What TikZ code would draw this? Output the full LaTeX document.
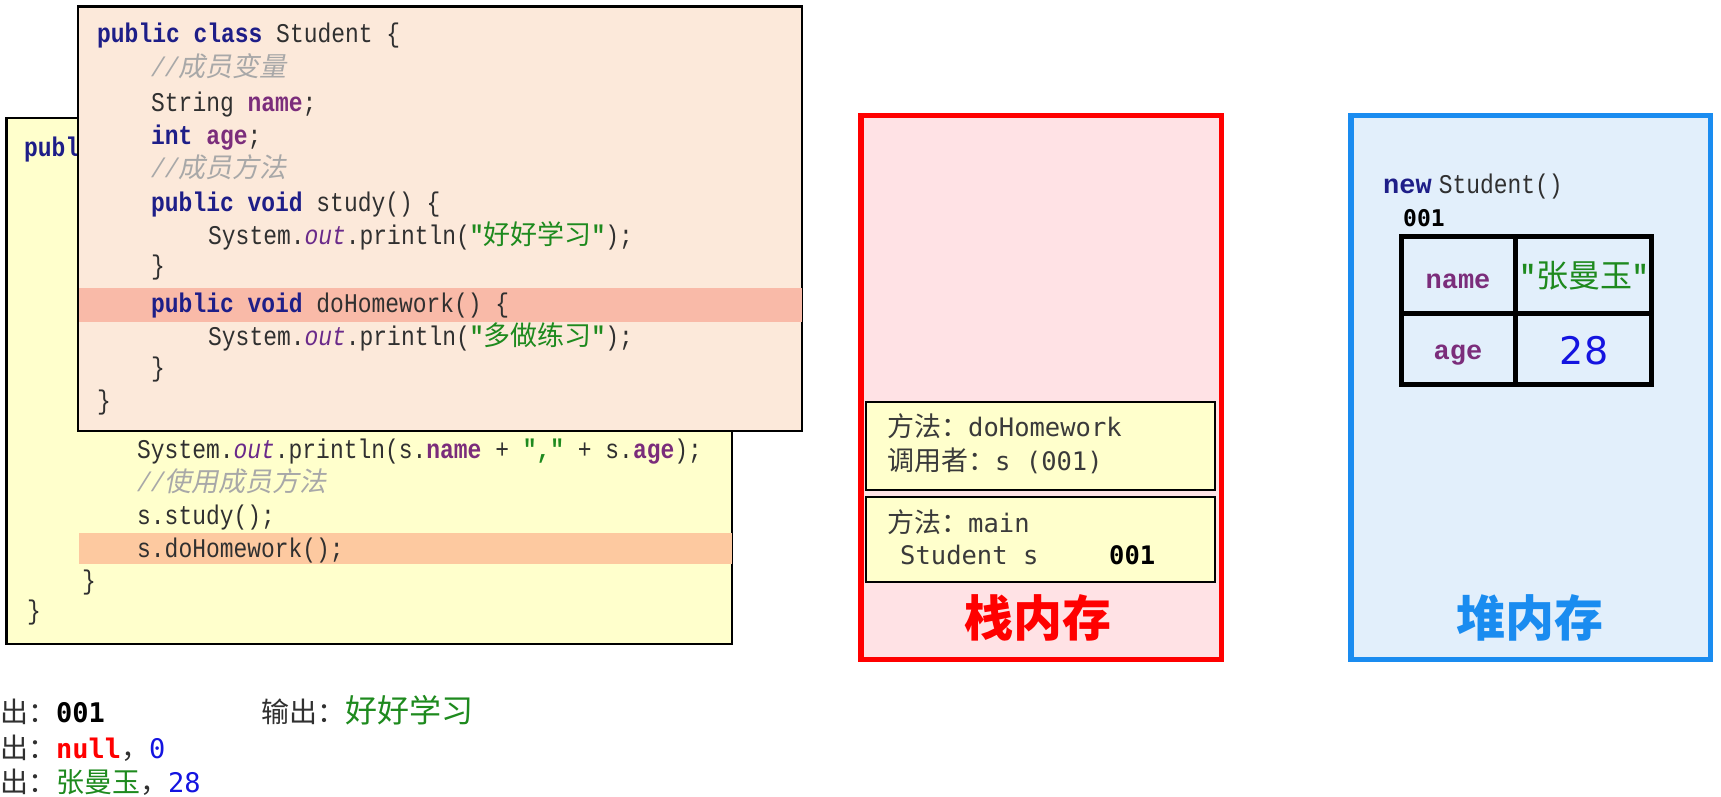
\documentclass[tikz,border=0pt]{standalone}
\usepackage{fontspec}
\newfontfamily\cjkfont{Noto Sans CJK SC}
\newfontfamily\cjkitfont[FakeSlant=0.2]{Noto Sans CJK SC}
\newfontfamily\codefont[FakeStretch=0.85]{Liberation Mono}
\newfontfamily\courfont{Liberation Mono}
\newfontfamily\smono{DejaVu Sans Mono}
\newfontfamily\dvsans{DejaVu Sans}
\definecolor{kwc}{HTML}{1E1E88}
\definecolor{fldc}{HTML}{7B2D7B}
\definecolor{outc}{HTML}{6A2A8A}
\definecolor{strc}{HTML}{1E8A1E}
\definecolor{cmtc}{HTML}{A8A8A8}
\definecolor{codec}{HTML}{303030}
\definecolor{frontfill}{HTML}{FCE9DA}
\definecolor{fronthl}{HTML}{F9BAA8}
\definecolor{backfill}{HTML}{FFFFCC}
\definecolor{backhl}{HTML}{FDC9A0}
\definecolor{stackfill}{HTML}{FFE2E5}
\definecolor{heapfill}{HTML}{E2EFFB}
\definecolor{heapblue}{HTML}{1A8CF0}
\definecolor{numblue}{HTML}{1414E0}
\definecolor{framegray}{HTML}{3A3A3A}
\newcommand\kw[1]{{\bfseries\color{kwc}#1}}
\newcommand\fld[1]{{\bfseries\color{fldc}#1}}
\newcommand\outv{{\itshape\color{outc}out}}
\newcommand\strv[1]{{\bfseries\color{strc}"{\cjkfont\mdseries #1}"}}
\newcommand\cmt[1]{{\color{cmtc}\itshape//\cjkitfont #1}}
\begin{document}
\begin{tikzpicture}[x=1pt,y=-1pt,
  codeline/.style={anchor=mid west, inner sep=0pt, text=codec, yshift=-6.5pt,
    font={\codefont\fontsize{27}{30}\selectfont}},
  boxnode/.style={anchor=north west, inner sep=0pt, outer sep=0pt},
  frametext/.style={anchor=mid west, inner sep=0pt, text=framegray, yshift=-6.5pt,
    font={\smono\fontsize{25.5}{30}\selectfont}},
  outline/.style={anchor=mid west, inner sep=0pt, text=codec, yshift=-9pt,
    font={\smono\fontsize{27}{30}\selectfont}},
  biglabel/.style={inner sep=0pt, font={\cjkfont\bfseries\fontsize{49}{52}\selectfont}}
]
\useasboundingbox (0,0) rectangle (1721,797);
% ---------- back box (main method) ----------
\node[boxnode, draw=black, line width=2.2pt, fill=backfill,
  minimum width=725.5pt, minimum height=526pt] (back) at (6.5,118) {};
\node[boxnode, fill=backhl, minimum width=653pt, minimum height=31pt] (backhl) at (79,533) {};
\node[codeline] (b0) at (24,148) {\kw{publ}};
\node[codeline] (b1) at (137,450) {System.\outv.println(s.\fld{name} + {\bfseries\color{strc}","} + s.\fld{age});};
\node[codeline] (b2) at (137,483) {\cmt{使用成员方法}};
\node[codeline] (b3) at (137,516) {s.study();};
\node[codeline] (b4) at (137,549) {s.doHomework();};
\node[codeline] (b5) at (82,581) {\}};
\node[codeline] (b6) at (27,611) {\}};
% ---------- front box (Student class) ----------
\node[boxnode, draw=black, line width=2.2pt, fill=frontfill,
  minimum width=724pt, minimum height=424.5pt] (front) at (78,6.5) {};
\node[boxnode, fill=fronthl, minimum width=723pt, minimum height=34pt] (fronthl) at (79,288) {};
\node[codeline] (f0) at (97,34) {\kw{public class} Student \{};
\node[codeline] (f1) at (151,68) {\cmt{成员变量}};
\node[codeline] (f2) at (151,103) {String \fld{name};};
\node[codeline] (f3) at (151,136) {\kw{int} \fld{age};};
\node[codeline] (f4) at (151,169) {\cmt{成员方法}};
\node[codeline] (f5) at (151,203) {\kw{public void} study() \{};
\node[codeline] (f6) at (208,236) {System.\outv.println(\strv{好好学习});};
\node[codeline] (f7) at (151,266) {\}};
\node[codeline] (f8) at (151,304) {\kw{public void} doHomework() \{};
\node[codeline] (f9) at (208,337) {System.\outv.println(\strv{多做练习});};
\node[codeline] (f10) at (151,368) {\}};
\node[codeline] (f11) at (97,401) {\}};
% ---------- stack ----------
\node[boxnode, draw=red, line width=5.5pt, fill=stackfill,
  minimum width=360.5pt, minimum height=543.5pt] (stack) at (860.75,115.75) {};
\node[boxnode, draw=black, line width=2pt, fill=backfill,
  minimum width=349pt, minimum height=88pt] (frame1) at (866,402) {};
\node[boxnode, draw=black, line width=2pt, fill=backfill,
  minimum width=349pt, minimum height=85pt] (frame2) at (866,497) {};
\node[frametext] (s1) at (887,428) {{\cjkfont\fontsize{27}{30}\selectfont 方法：}doHomework};
\node[frametext] (s2) at (887,462) {{\cjkfont\fontsize{27}{30}\selectfont 调用者：}s (001)};
\node[frametext] (s3) at (887,524) {{\cjkfont\fontsize{27}{30}\selectfont 方法：}main};
\node[frametext] (s4) at (900,556) {Student s};
\node[frametext, text=black, font={\smono\bfseries\fontsize{25.5}{30}\selectfont}] (s5) at (1109,556) {001};
\node[biglabel, text=red] (stacklabel) at (1038,618) {栈内存};
% ---------- heap ----------
\node[boxnode, draw=heapblue, line width=5.5pt, fill=heapfill,
  minimum width=359.5pt, minimum height=543.5pt] (heap) at (1350.75,115.75) {};
\node[codeline] (h1) at (1383,185) {{\courfont\bfseries\color{kwc}new}\hspace{7pt}Student()};
\node[anchor=mid west, inner sep=0pt, yshift=-6.5pt, font={\smono\bfseries\fontsize{23}{28}\selectfont}] (h2) at (1403,218) {001};
\node[boxnode, draw=black, line width=5pt, minimum width=250pt, minimum height=148pt] (tbl) at (1401.5,236.5) {};
\draw[line width=5pt] (tbl.north west -| 1515,0) -- (tbl.south west -| 1515,0);
\draw[line width=5pt] (tbl.west |- 0,313) -- (tbl.east |- 0,313);
\node[inner sep=0pt, text=fldc, yshift=-2pt, font={\courfont\bfseries\fontsize{27}{30}\selectfont}] (tname) at (1458,279) {name};
\node[inner sep=0pt, text=fldc, yshift=-6pt, font={\courfont\bfseries\fontsize{27}{30}\selectfont}] (tage) at (1458,349) {age};
\node[inner sep=0pt, text=strc, yshift=-2pt, font={\cjkfont\fontsize{32}{34}\selectfont}] (tval1) at (1584,274) {{\codefont\bfseries"}张曼玉{\codefont\bfseries"}};
\node[inner sep=0pt, text=numblue, font={\dvsans\fontsize{38}{40}\selectfont}] (tval2) at (1584,351) {28};
\node[biglabel, text=heapblue] (heaplabel) at (1530,618) {堆内存};
% ---------- outputs ----------
\node[outline] (o1) at (0,711) {{\cjkfont\fontsize{28}{30}\selectfont 出：}{\bfseries\color{black}001}};
\node[outline] (o2) at (261,711) {{\cjkfont\fontsize{28}{30}\selectfont 输出：{\color{strc}\fontsize{32}{34}\selectfont 好好学习}}};
\node[outline] (o3) at (0,747) {{\cjkfont\fontsize{28}{30}\selectfont 出：}{\bfseries\color{red}null}{\cjkfont\fontsize{28}{30}\selectfont ，}{\color{numblue}0}};
\node[outline] (o4) at (0,781) {{\cjkfont\fontsize{28}{30}\selectfont 出：{\color{strc}张曼玉}，}{\color{numblue}28}};
\end{tikzpicture}
\end{document}
